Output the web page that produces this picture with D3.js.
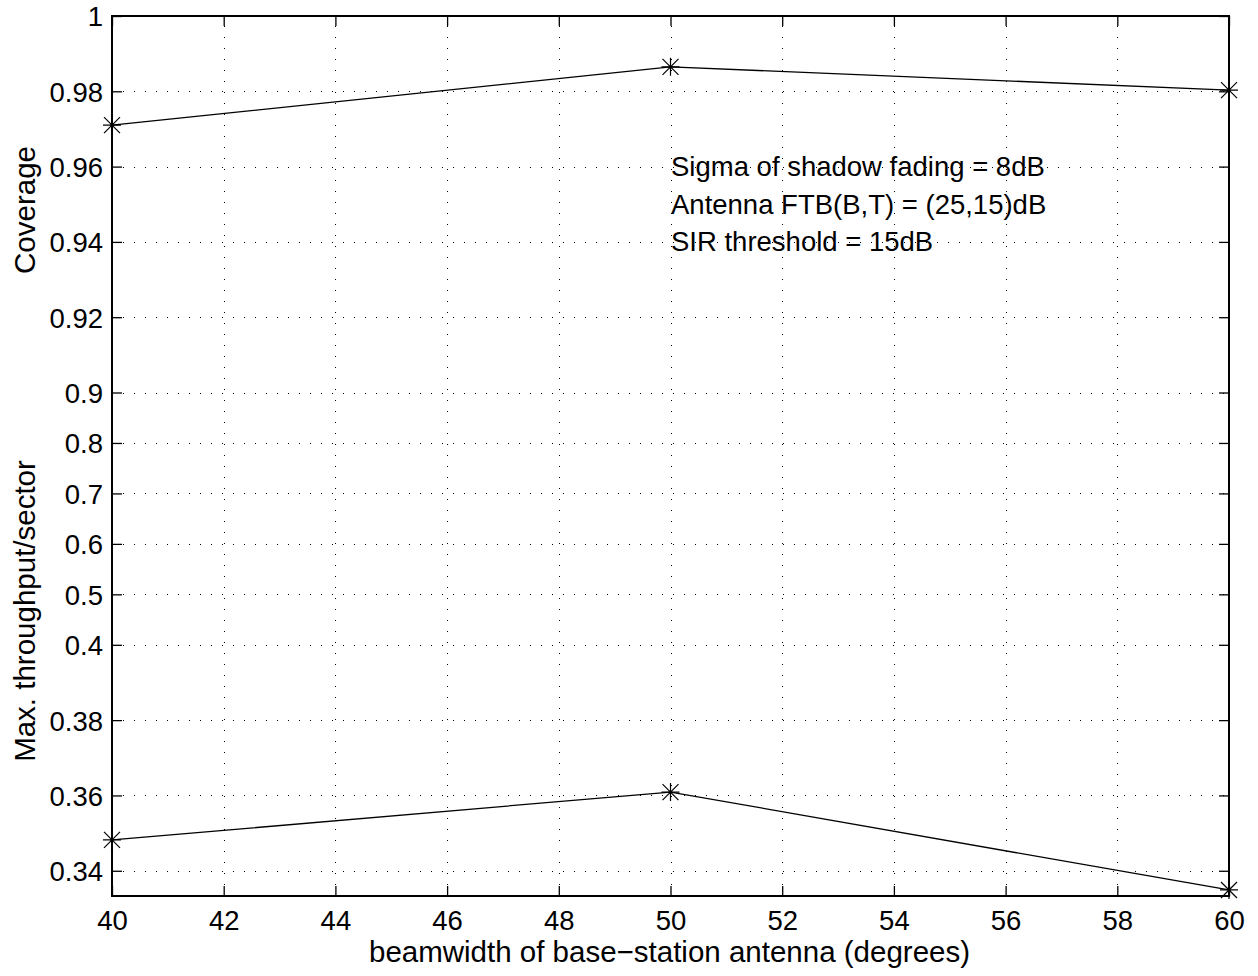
<!DOCTYPE html>
<html>
<head>
<meta charset="utf-8">
<script src="https://cdn.jsdelivr.net/npm/d3@7"></script>
<style>
  html, body { margin: 0; padding: 0; background: #fff; }
  svg text { font-family: "Liberation Sans", Arial, Helvetica, sans-serif; fill: #000; }
</style>
</head>
<body>
<div id="chart"></div>
<script>
// data
var beamwidth = [40, 50, 60];
var coverage = [0.9710, 0.9865, 0.9803];
var throughput = [0.3482, 0.3609, 0.3349];
var xTicks = [40, 42, 44, 46, 48, 50, 52, 54, 56, 58, 60];
var yTicks = [0.34, 0.36, 0.38, 0.4, 0.5, 0.6, 0.7, 0.8, 0.9, 0.92, 0.94, 0.96, 0.98, 1];
var yTickLabels = ['0.34', '0.36', '0.38', '0.4', '0.5', '0.6', '0.7', '0.8', '0.9', '0.92', '0.94', '0.96', '0.98', '1'];
var notes = ['Sigma of shadow fading = 8dB', 'Antenna FTB(B,T) = (25,15)dB', 'SIR threshold = 15dB'];

var W = 1258, H = 976;
var pLeft = 112, pRight = 1229, pTop = 16, pBottom = 896;

var svg = d3.select('#chart').append('svg')
  .attr('width', W).attr('height', H);

var x = d3.scaleLinear().domain([40, 60]).range([pLeft, pRight]);
// piecewise axis: coverage part on top, throughput part below, squeezed band in between
var y = d3.scaleLinear()
  .domain([0.3333, 0.4, 0.9, 1])
  .range([pBottom, 644.8, 392.5, pTop]);

// grid (dotted)
var grid = svg.append('g').attr('stroke', '#000').attr('stroke-width', 1)
  .attr('stroke-dasharray', '1,10').attr('shape-rendering', 'crispEdges');
xTicks.slice(1, -1).forEach(function (t) {
  grid.append('line').attr('x1', Math.round(x(t)) + 0.5).attr('x2', Math.round(x(t)) + 0.5)
    .attr('y1', pBottom).attr('y2', pTop);
});
yTicks.filter(function (t) { return t < 1; }).forEach(function (t) {
  grid.append('line').attr('y1', Math.round(y(t)) + 0.5).attr('y2', Math.round(y(t)) + 0.5)
    .attr('x1', pLeft).attr('x2', pRight);
});

// axes with inward ticks
var xAxB = d3.axisBottom(x).tickValues(xTicks).tickSizeInner(-10).tickSizeOuter(0).tickPadding(14);
var xAxT = d3.axisTop(x).tickValues(xTicks).tickSizeInner(-10).tickSizeOuter(0).tickFormat('');
var yAxL = d3.axisLeft(y).tickValues(yTicks).tickSizeInner(-10).tickSizeOuter(0).tickPadding(9)
  .tickFormat(function (d, i) { return yTickLabels[i]; });
var yAxR = d3.axisRight(y).tickValues(yTicks).tickSizeInner(-10).tickSizeOuter(0).tickFormat('');

function style(g) {
  g.selectAll('.domain').remove();
  g.attr('font-size', 27.5).attr('font-family', '"Liberation Sans", Arial, sans-serif');
  g.selectAll('line').attr('stroke', '#000').attr('stroke-width', 1.3);
}
svg.append('g').attr('transform', 'translate(0,' + pBottom + ')').call(xAxB).call(style);
svg.append('g').attr('transform', 'translate(0,' + pTop + ')').call(xAxT).call(style);
svg.append('g').attr('transform', 'translate(' + pLeft + ',0)').call(yAxL).call(style)
  .selectAll('text').attr('dy', '0.36em');
svg.append('g').attr('transform', 'translate(' + pRight + ',0)').call(yAxR).call(style);

// frame
svg.append('rect').attr('x', pLeft).attr('y', pTop)
  .attr('width', pRight - pLeft).attr('height', pBottom - pTop)
  .attr('fill', 'none').attr('stroke', '#000').attr('stroke-width', 2);

// series lines + asterisk markers
var line = d3.line().x(function (d) { return x(d[0]); }).y(function (d) { return y(d[1]); });
[coverage, throughput].forEach(function (vals) {
  var pts = beamwidth.map(function (b, i) { return [b, vals[i]]; });
  svg.append('path').datum(pts).attr('d', line)
    .attr('fill', 'none').attr('stroke', '#000').attr('stroke-width', 1.3);
  var s = 9, d = 8;
  svg.append('g').selectAll('path').data(pts).enter().append('path')
    .attr('d', function (p) {
      var cx = x(p[0]), cy = y(p[1]);
      return 'M' + (cx - s) + ',' + cy + 'H' + (cx + s) +
        'M' + cx + ',' + (cy - s) + 'V' + (cy + s) +
        'M' + (cx - d) + ',' + (cy - d) + 'L' + (cx + d) + ',' + (cy + d) +
        'M' + (cx - d) + ',' + (cy + d) + 'L' + (cx + d) + ',' + (cy - d);
    })
    .attr('stroke', '#000').attr('stroke-width', 1.2).attr('fill', 'none');
});

// annotation
svg.append('g').selectAll('text').data(notes).enter().append('text')
  .attr('x', 671).attr('y', function (d, i) { return 176 + i * 37.5; })
  .attr('font-size', 27.5).text(function (d) { return d; });

// axis labels
svg.append('text').attr('x', (pLeft + pRight) / 2 - 1).attr('y', 962)
  .attr('text-anchor', 'middle').attr('font-size', 29.5)
  .text('beamwidth of base\u2212station antenna (degrees)');
svg.append('text').attr('transform', 'translate(35,210) rotate(-90)')
  .attr('text-anchor', 'middle').attr('font-size', 29.5).text('Coverage');
svg.append('text').attr('transform', 'translate(35,611) rotate(-90)')
  .attr('text-anchor', 'middle').attr('font-size', 29.5).text('Max. throughput/sector');
</script>
</body>
</html>
